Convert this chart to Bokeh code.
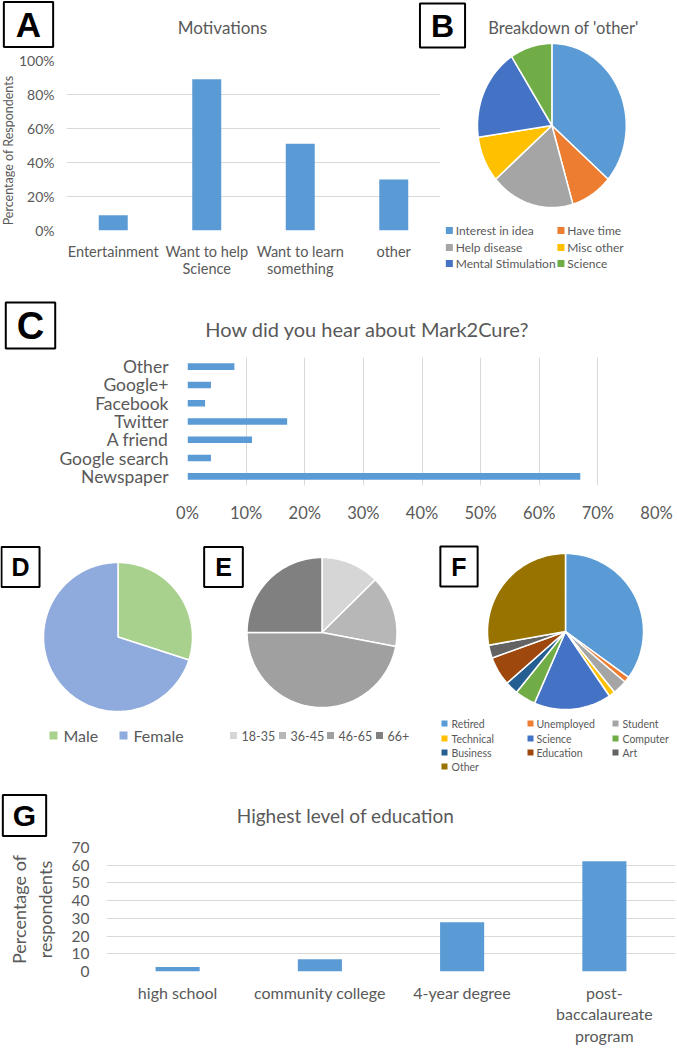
import numpy as np
from bokeh.plotting import figure
from bokeh.models import (ColumnDataSource, FactorRange, Range1d, Label,
                          NumeralTickFormatter, FixedTicker)
from bokeh.layouts import column, row
from bokeh.core.properties import value
from bokeh.embed import file_html
from bokeh.resources import INLINE

FONT = "Lato"
LETTER_FONT = "Liberation Sans"
TXT = "#595959"
GRID = "#D9D9D9"
BAR = "#5B9BD5"

# ---------------- data ----------------
motiv_cats = ["Entertainment", "Want to help\nScience", "Want to learn\nsomething", "other"]
motiv_vals = [0.09, 0.89, 0.51, 0.30]
motiv_ticks = [0, 0.2, 0.4, 0.6, 0.8, 1.0]

other_labels = ["Interest in idea", "Have time", "Help disease", "Misc other",
                "Mental Stimulation", "Science"]
other_vals = [4, 1, 2, 1, 2, 1]
other_colors = ["#5B9BD5", "#ED7D31", "#A5A5A5", "#FFC000", "#4472C4", "#70AD47"]

hear_cats = ["Other", "Google+", "Facebook", "Twitter", "A friend", "Google search", "Newspaper"]
hear_vals = [0.08, 0.04, 0.03, 0.17, 0.11, 0.04, 0.67]
hear_ticks = [0, 0.1, 0.2, 0.3, 0.4, 0.5, 0.6, 0.7, 0.8]

gender_labels = ["Male", "Female"]
gender_vals = [30, 70]
gender_colors = ["#A9D18E", "#8FAADC"]

age_labels = ["18-35", "36-45", "46-65", "66+"]
age_vals = [12.6, 15.4, 47, 25]
age_colors = ["#D6D6D6", "#B7B7B7", "#A0A0A0", "#808080"]

occ_labels = ["Retired", "Unemployed", "Student", "Technical", "Science", "Computer",
              "Business", "Education", "Art", "Other"]
occ_vals = [35, 1.2, 3, 1.3, 16, 4.3, 2.7, 6, 2.7, 27.8]
occ_colors = ["#5B9BD5", "#ED7D31", "#A5A5A5", "#FFC000", "#4472C4", "#70AD47",
              "#255E91", "#9E480E", "#636363", "#997300"]

edu_cats = ["high school", "community college", "4-year degree", "post-\nbaccalaureate\nprogram"]
edu_vals = [2.6, 6.9, 27.8, 62.3]
edu_ticks = [0, 10, 20, 30, 40, 50, 60, 70]


# ---------------- helpers ----------------
def base_fig(**kw):
    return figure(output_backend="svg", toolbar_location=None, title=None,
                  border_fill_color=None, background_fill_color=None,
                  outline_line_color=None, **kw)


def style_axes(p, size):
    for ax in p.axis:
        ax.axis_line_color = None
        ax.major_tick_line_color = None
        ax.minor_tick_line_color = None
        ax.major_tick_out = 0
        ax.major_tick_in = 0
        ax.minor_tick_out = 0
        ax.minor_tick_in = 0
        ax.major_label_text_font = FONT
        ax.major_label_text_color = TXT
        ax.major_label_text_font_size = size
        ax.axis_label_text_font = FONT
        ax.axis_label_text_color = TXT
        ax.axis_label_text_font_style = "normal"


def text_label(p, x, y, text, size, color=TXT, **kw):
    p.add_layout(Label(x=x, y=y, x_units="screen", y_units="screen", text=text,
                       text_font=FONT, text_font_size=size, text_color=color,
                       text_align="center", text_baseline="middle", **kw))


def letter_box(p, x, y, ch, size, pad):
    # pad = (horizontal, vertical)
    p.add_layout(Label(x=x, y=y, x_units="screen", y_units="screen", text=ch,
                       text_font=LETTER_FONT, text_font_style="bold",
                       text_font_size=size, text_color="black",
                       text_align="center", text_baseline="middle",
                       border_line_color="black", border_line_width=2,
                       background_fill_color="white", padding=pad))


def canvas_fig(width, height, cx=None, cy=None, r=None):
    if r is None:
        xr, yr = Range1d(0, 1), Range1d(0, 1)
    else:
        xr = Range1d(-cx / r, (width - cx) / r)
        yr = Range1d(-(height - cy) / r, cy / r)
    p = base_fig(width=width, height=height, x_range=xr, y_range=yr,
                 x_axis_type=None, y_axis_type=None, min_border=0)
    p.grid.visible = False
    return p


def add_pie(p, vals, colors):
    v = np.asarray(vals, dtype=float)
    cum = np.concatenate([[0.0], np.cumsum(v)]) / v.sum() * 2 * np.pi
    xs, ys = [], []
    for a0, a1 in zip(cum[:-1], cum[1:]):
        n = max(3, int((a1 - a0) / (2 * np.pi) * 240) + 2)
        t = np.linspace(a0, a1, n)
        xs.append(np.concatenate([[0.0], np.sin(t), [0.0]]).tolist())
        ys.append(np.concatenate([[0.0], np.cos(t), [0.0]]).tolist())
    src = ColumnDataSource(dict(xs=xs, ys=ys, color=list(colors)))
    p.patches("xs", "ys", source=src, fill_color="color", line_color="white",
              line_width=1.5)


def add_legend(p, cx, cy, r, labels, colors, mcols, tcols, rows_y, ncols, size, msize):
    mx, tx, yy = [], [], []
    for i in range(len(labels)):
        c, rr = i % ncols, i // ncols
        mx.append((mcols[c] - cx) / r)
        tx.append((tcols[c] - cx) / r)
        yy.append((cy - rows_y[rr]) / r)
    src = ColumnDataSource(dict(mx=mx, tx=tx, y=yy, label=list(labels), color=list(colors)))
    p.scatter("mx", "y", source=src, marker="square", size=msize,
              fill_color="color", line_color=None)
    p.text("tx", "y", text="label", source=src, text_font=value(FONT),
           text_font_size=size, text_color=TXT, text_align="left",
           text_baseline="middle")


# ---------------- A ----------------
hA = canvas_fig(442, 50)
letter_box(hA, 28, 50 - 24, "A", "35px", (12, 3))
text_label(hA, 222, 50 - 27, "Motivations", "17px")

yA = canvas_fig(15, 240)
text_label(yA, 7.5, 240 - 100, "Percentage of Respondents", "12.5px", angle=np.pi / 2)

pA = base_fig(width=427, height=240, x_range=FactorRange(*motiv_cats),
              y_range=Range1d(0, 1), min_border_left=49, min_border_right=2,
              min_border_top=10, min_border_bottom=60)
srcA = ColumnDataSource(dict(cat=motiv_cats, val=motiv_vals))
pA.vbar(x="cat", top="val", width=0.31, source=srcA, fill_color=BAR, line_color=None)
pA.yaxis.ticker = FixedTicker(ticks=motiv_ticks)
pA.yaxis.formatter = NumeralTickFormatter(format="0%")
pA.xgrid.visible = False
pA.ygrid.ticker = FixedTicker(ticks=motiv_ticks)
pA.ygrid.grid_line_color = GRID
style_axes(pA, "14px")
pA.xaxis.major_label_text_font_size = "14.5px"
pA.xaxis.major_label_text_line_height = 1.05
pA.xaxis.major_label_standoff = 12
pA.yaxis.major_label_standoff = 12

# ---------------- B ----------------
WB, HB = 259, 290
cxB, cyB, rB = 147, 125, 82
pB = canvas_fig(WB, HB, cxB, cyB, rB)
pB.margin = (0, 0, 0, -24)
add_pie(pB, other_vals, other_colors)
add_legend(pB, cxB, cyB, rB, other_labels, other_colors, [34, 157], [41, 164],
           [230, 247, 263], 2, "12px", 7)
letter_box(pB, 24, HB - 25, "B", "32px", (11, 4))
text_label(pB, 145, HB - 27, "Breakdown of 'other'", "16.5px")

# ---------------- C ----------------
hC = canvas_fig(677, 60)
letter_box(hC, 30, 60 - 35, "C", "38px", (11, 2))
text_label(hC, 367, 60 - 38, "How did you hear about Mark2Cure?", "20px")

pC = base_fig(width=677, height=190, y_range=FactorRange(*hear_cats[::-1]),
              x_range=Range1d(0, 0.8), min_border_left=187, min_border_right=21,
              min_border_top=7, min_border_bottom=55)
srcC = ColumnDataSource(dict(cat=hear_cats, val=hear_vals))
pC.hbar(y="cat", right="val", height=0.36, source=srcC, fill_color=BAR, line_color=None)
pC.xaxis.ticker = FixedTicker(ticks=hear_ticks)
pC.xaxis.formatter = NumeralTickFormatter(format="0%")
pC.xgrid.ticker = FixedTicker(ticks=hear_ticks)
pC.xgrid.grid_line_color = GRID
pC.ygrid.visible = False
style_axes(pC, "17.5px")
pC.xaxis.major_label_text_font_size = "16.5px"
pC.yaxis.major_label_standoff = 19
pC.xaxis.major_label_standoff = 17

# ---------------- D ----------------
WD, HD = 200, 244
cxD, cyD, rD = 117.5, 96.5, 74.5
pD = canvas_fig(WD, HD, cxD, cyD, rD)
add_pie(pD, gender_vals, gender_colors)
add_legend(pD, cxD, cyD, rD, gender_labels, gender_colors, [53, 123], [63, 133],
           [195], 2, "16px", 8)
letter_box(pD, 20, HD - 26.5, "D", "25px", (10, 6))

# ---------------- E ----------------
WE, HE = 220, 244
cxE, cyE, rE = 121.5, 92, 75
pE = canvas_fig(WE, HE, cxE, cyE, rE)
add_pie(pE, age_vals, age_colors)
add_legend(pE, cxE, cyE, rE, age_labels, age_colors, [33, 82, 130, 179],
           [41, 90, 138, 187], [195], 4, "12.5px", 7)
letter_box(pE, 23, HE - 26.5, "E", "25px", (11, 6))

# ---------------- F ----------------
WF, HF = 257, 244
cxF, cyF, rF = 145, 91, 78
pF = canvas_fig(WF, HF, cxF, cyF, rF)
add_pie(pF, occ_vals, occ_colors)
add_legend(pF, cxF, cyF, rF, occ_labels, occ_colors, [24, 110, 195], [31, 116, 202],
           [183, 198, 212, 226], 3, "10.5px", 6)
letter_box(pF, 38.5, HF - 26, "F", "25px", (11, 6))

# ---------------- G ----------------
hG = canvas_fig(677, 54)
letter_box(hG, 24, 54 - 31, "G", "30px", (10, 4))
text_label(hG, 345, 54 - 31, "Highest level of education", "19px")

pG = base_fig(width=677, height=210, x_range=FactorRange(*edu_cats),
              y_range=Range1d(0, 70), min_border_left=106, min_border_right=2,
              min_border_top=9, min_border_bottom=76)
srcG = ColumnDataSource(dict(cat=edu_cats, val=edu_vals))
pG.vbar(x="cat", top="val", width=0.31, source=srcG, fill_color=BAR, line_color=None)
pG.yaxis.ticker = FixedTicker(ticks=edu_ticks)
pG.ygrid.ticker = FixedTicker(ticks=edu_ticks)
pG.ygrid.grid_line_color = GRID
pG.xgrid.visible = False
style_axes(pG, "15.5px")
pG.xaxis.major_label_text_font_size = "16px"
pG.xaxis.major_label_text_line_height = 1.15
pG.xaxis.major_label_standoff = 11
pG.yaxis.major_label_standoff = 17
pG.yaxis.axis_label = "Percentage of\nrespondents"
pG.yaxis.axis_label_text_font_size = "18px"
pG.yaxis.axis_label_text_line_height = 1.15
pG.yaxis.axis_label_standoff = 13

top = row(column(row(hA), row(row(yA), row(pA))), row(pB))
mid = column(row(hC), row(pC))
pies = row(row(pD), row(pE), row(pF))
bottom = column(row(hG), row(pG))
layout = column(top, mid, pies, bottom)
open("out.html", "w").write(file_html(layout, INLINE))
